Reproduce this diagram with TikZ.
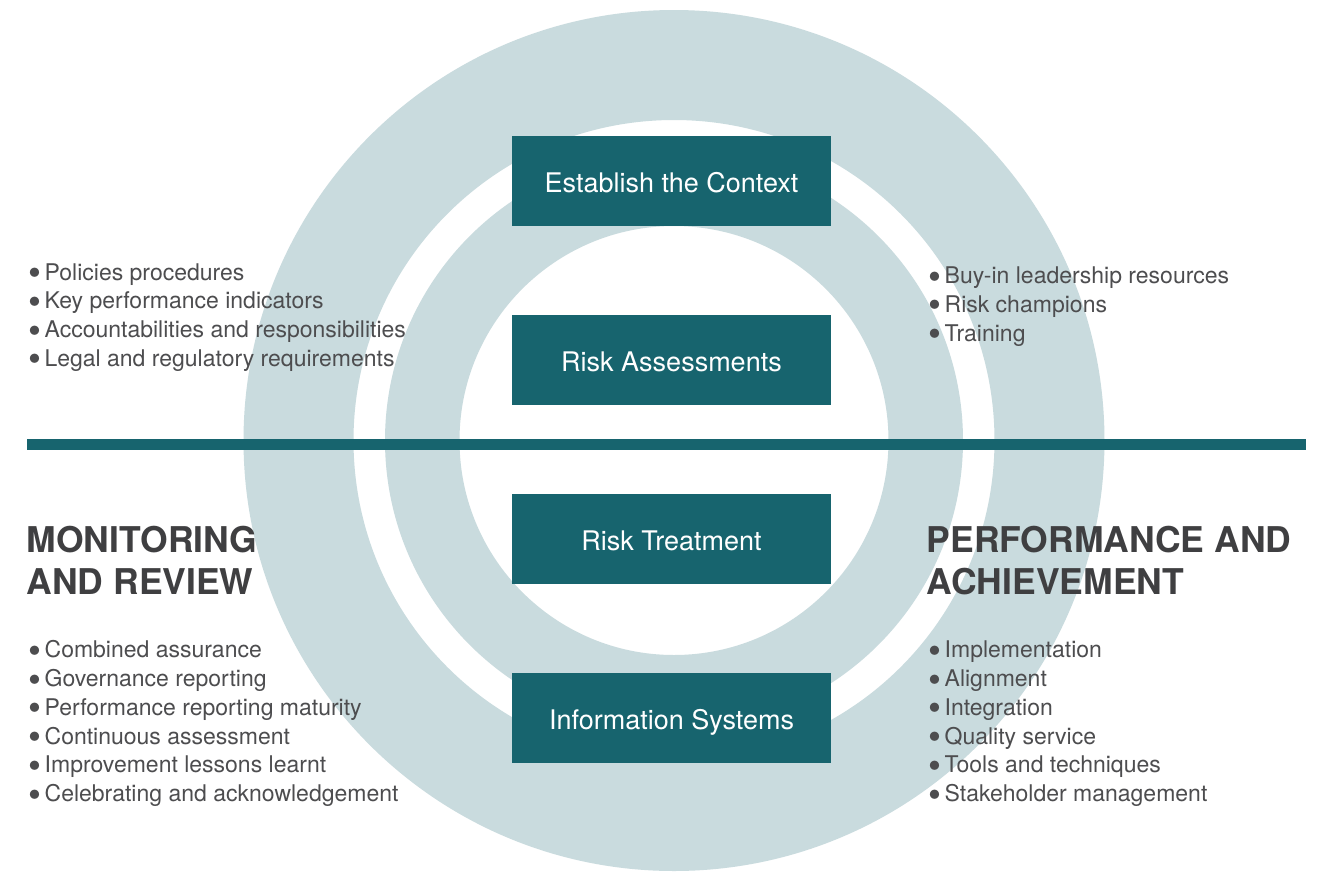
\documentclass[tikz,border=0pt]{standalone}
\usepackage{fontspec}
\setmainfont{TeX Gyre Heros}
\definecolor{ringgray}{HTML}{C9DBDE}
\definecolor{stageteal}{HTML}{17646E}
\definecolor{headgray}{HTML}{3F3F41}
\definecolor{itemgray}{HTML}{4D4D4F}
\newcommand{\blt}{\raisebox{-5.5pt}[0pt][0pt]{\fontsize{37}{37}\selectfont\textbullet}\hspace{3.5pt}}

\begin{document}
\begin{tikzpicture}[x=1pt, y=-1pt,
  stage/.style={fill=stageteal, text=white, inner sep=0pt, minimum width=319pt, minimum height=90pt,
                text height=22.4pt, text depth=0pt, font=\fontsize{27}{32}\selectfont},
  item/.style={anchor=base west, inner sep=0pt, text=itemgray, font=\fontsize{23}{28.8}\selectfont},
  head/.style={anchor=base west, inner sep=0pt, text=headgray, font=\fontsize{35.5}{41}\selectfont\bfseries}]

  %% ════ 底色 ════
  \fill[white] (0,0) rectangle (1326,871);

  %% ════ 两个圆环 ════
  \fill[ringgray, even odd rule] (674,440.5) circle (430.5) (674,440.5) circle (320.5);
  \fill[ringgray, even odd rule] (674,440.5) circle (289.0) (674,440.5) circle (214.5);

  %% ════ 横线 ════
  \coordinate (ruleL) at (27,444.5);
  \coordinate (ruleR) at (1306,444.5);
  \draw[stageteal, line width=11pt] (ruleL) -- (ruleR);

  %% ════ 中间四个方框 ════
  \node[stage] (ctx)    at (671.5,181.0) {Establish the Context};
  \node[stage] (assess) at (671.5,360.0) {Risk Assessments};
  \node[stage] (treat)  at (671.5,539.0) {Risk Treatment};
  \node[stage] (info)   at (671.5,718.0) {Information Systems};

  %% ════ 左上列表 ════
  \node[item] (tl1) at (28,280.0) {\blt Policies procedures};
  \node[item] (tl2) at (28,308.8) {\blt Key performance indicators};
  \node[item] (tl3) at (28,337.6) {\blt Accountabilities and responsibilities};
  \node[item] (tl4) at (28,366.4) {\blt Legal and regulatory requirements};

  %% ════ 右上列表 ════
  \node[item] (tr1) at (928,283.5) {\blt Buy-in leadership resources};
  \node[item] (tr2) at (928,312.3) {\blt Risk champions};
  \node[item] (tr3) at (928,341.1) {\blt Training};

  %% ════ 标题 ════
  \node[head] (monA) at (26.5,552.7) {MONITORING};
  \node[head] (monB) at (26.5,594.3) {AND REVIEW};
  \node[head] (perA) at (926.5,552.7) {PERFORMANCE AND};
  \node[head] (perB) at (926.5,594.3) {ACHIEVEMENT};

  %% ════ 左下列表 ════
  \node[item] (bl1) at (28,657.7) {\blt Combined assurance};
  \node[item] (bl2) at (28,686.5) {\blt Governance reporting};
  \node[item] (bl3) at (28,715.3) {\blt Performance reporting maturity};
  \node[item] (bl4) at (28,744.1) {\blt Continuous assessment};
  \node[item] (bl5) at (28,772.9) {\blt Improvement lessons learnt};
  \node[item] (bl6) at (28,801.7) {\blt Celebrating and acknowledgement};

  %% ════ 右下列表 ════
  \node[item] (br1) at (928,657.7) {\blt Implementation};
  \node[item] (br2) at (928,686.5) {\blt Alignment};
  \node[item] (br3) at (928,715.3) {\blt Integration};
  \node[item] (br4) at (928,744.1) {\blt Quality service};
  \node[item] (br5) at (928,772.9) {\blt Tools and techniques};
  \node[item] (br6) at (928,801.7) {\blt Stakeholder management};

  % 钉死画布
  \pgfresetboundingbox
  \path[use as bounding box] (0,0) rectangle (1326,871);
\end{tikzpicture}
\end{document}
